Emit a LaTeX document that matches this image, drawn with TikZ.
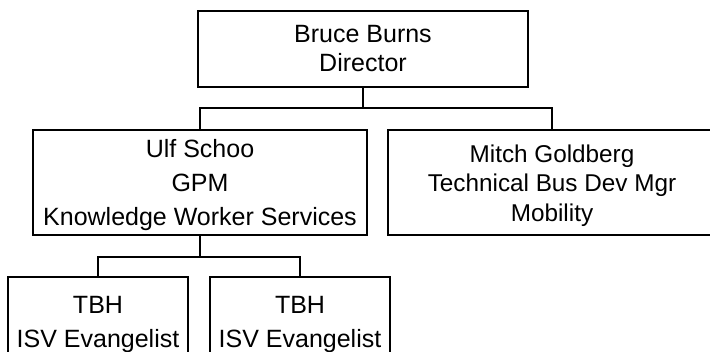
\documentclass[tikz,border=0pt]{standalone}
\usepackage{fontspec}
\setmainfont{Liberation Sans}
\begin{document}
\begin{tikzpicture}[x=1pt,y=-1pt,
  box/.style={draw, line width=1.6pt, rectangle, inner sep=0pt},
  lbl/.style={inner sep=0pt, align=center},
  wire/.style={line width=1.5pt},
  tight/.style={font=\fontsize{25}{29}\selectfont},
  loose/.style={font=\fontsize{25}{34}\selectfont}]
\useasboundingbox (0,0) rectangle (710,352);

% org chart boxes
\node[box, minimum width=330pt, minimum height=76pt] (bruce) at (363,49) {};
\node[box, minimum width=334pt, minimum height=105pt] (ulf) at (200,182.5) {};
\node[box, minimum width=328pt, minimum height=105pt] (mitch) at (552,182.5) {};
\node[box, minimum width=180pt, minimum height=92pt] (tbha) at (98,323) {};
\node[box, minimum width=180pt, minimum height=92pt] (tbhb) at (300,323) {};

% names and titles
\node[lbl, tight] (bruce-t) at (bruce.center) {Bruce Burns\\Director};
\node[lbl, loose] (ulf-t) at ([yshift=-3pt]ulf.center) {Ulf Schoo\\GPM\\Knowledge Worker Services};
\node[lbl, font=\fontsize{24.3}{29.5}\selectfont] (mitch-t) at ([yshift=-3pt]mitch.center)
  {Mitch Goldberg\\Technical Bus Dev Mgr\\Mobility};
\node[lbl, loose] (tbha-t) at ([yshift=-1pt]tbha.center) {TBH\\ISV Evangelist};
\node[lbl, loose] (tbhb-t) at ([yshift=-1pt]tbhb.center) {TBH\\ISV Evangelist};

% junction points of the connectors
\coordinate (bus) at (363,108);
\coordinate (sub) at (200,257);

\draw[wire] (bruce.south) -- (bus);
\draw[wire] (bus) -| (ulf.north);
\draw[wire] (bus) -| (mitch.north);
\draw[wire] (ulf.south) -- (sub);
\draw[wire] (sub) -| (tbha.north);
\draw[wire] (sub) -| (tbhb.north);
\end{tikzpicture}
\end{document}
